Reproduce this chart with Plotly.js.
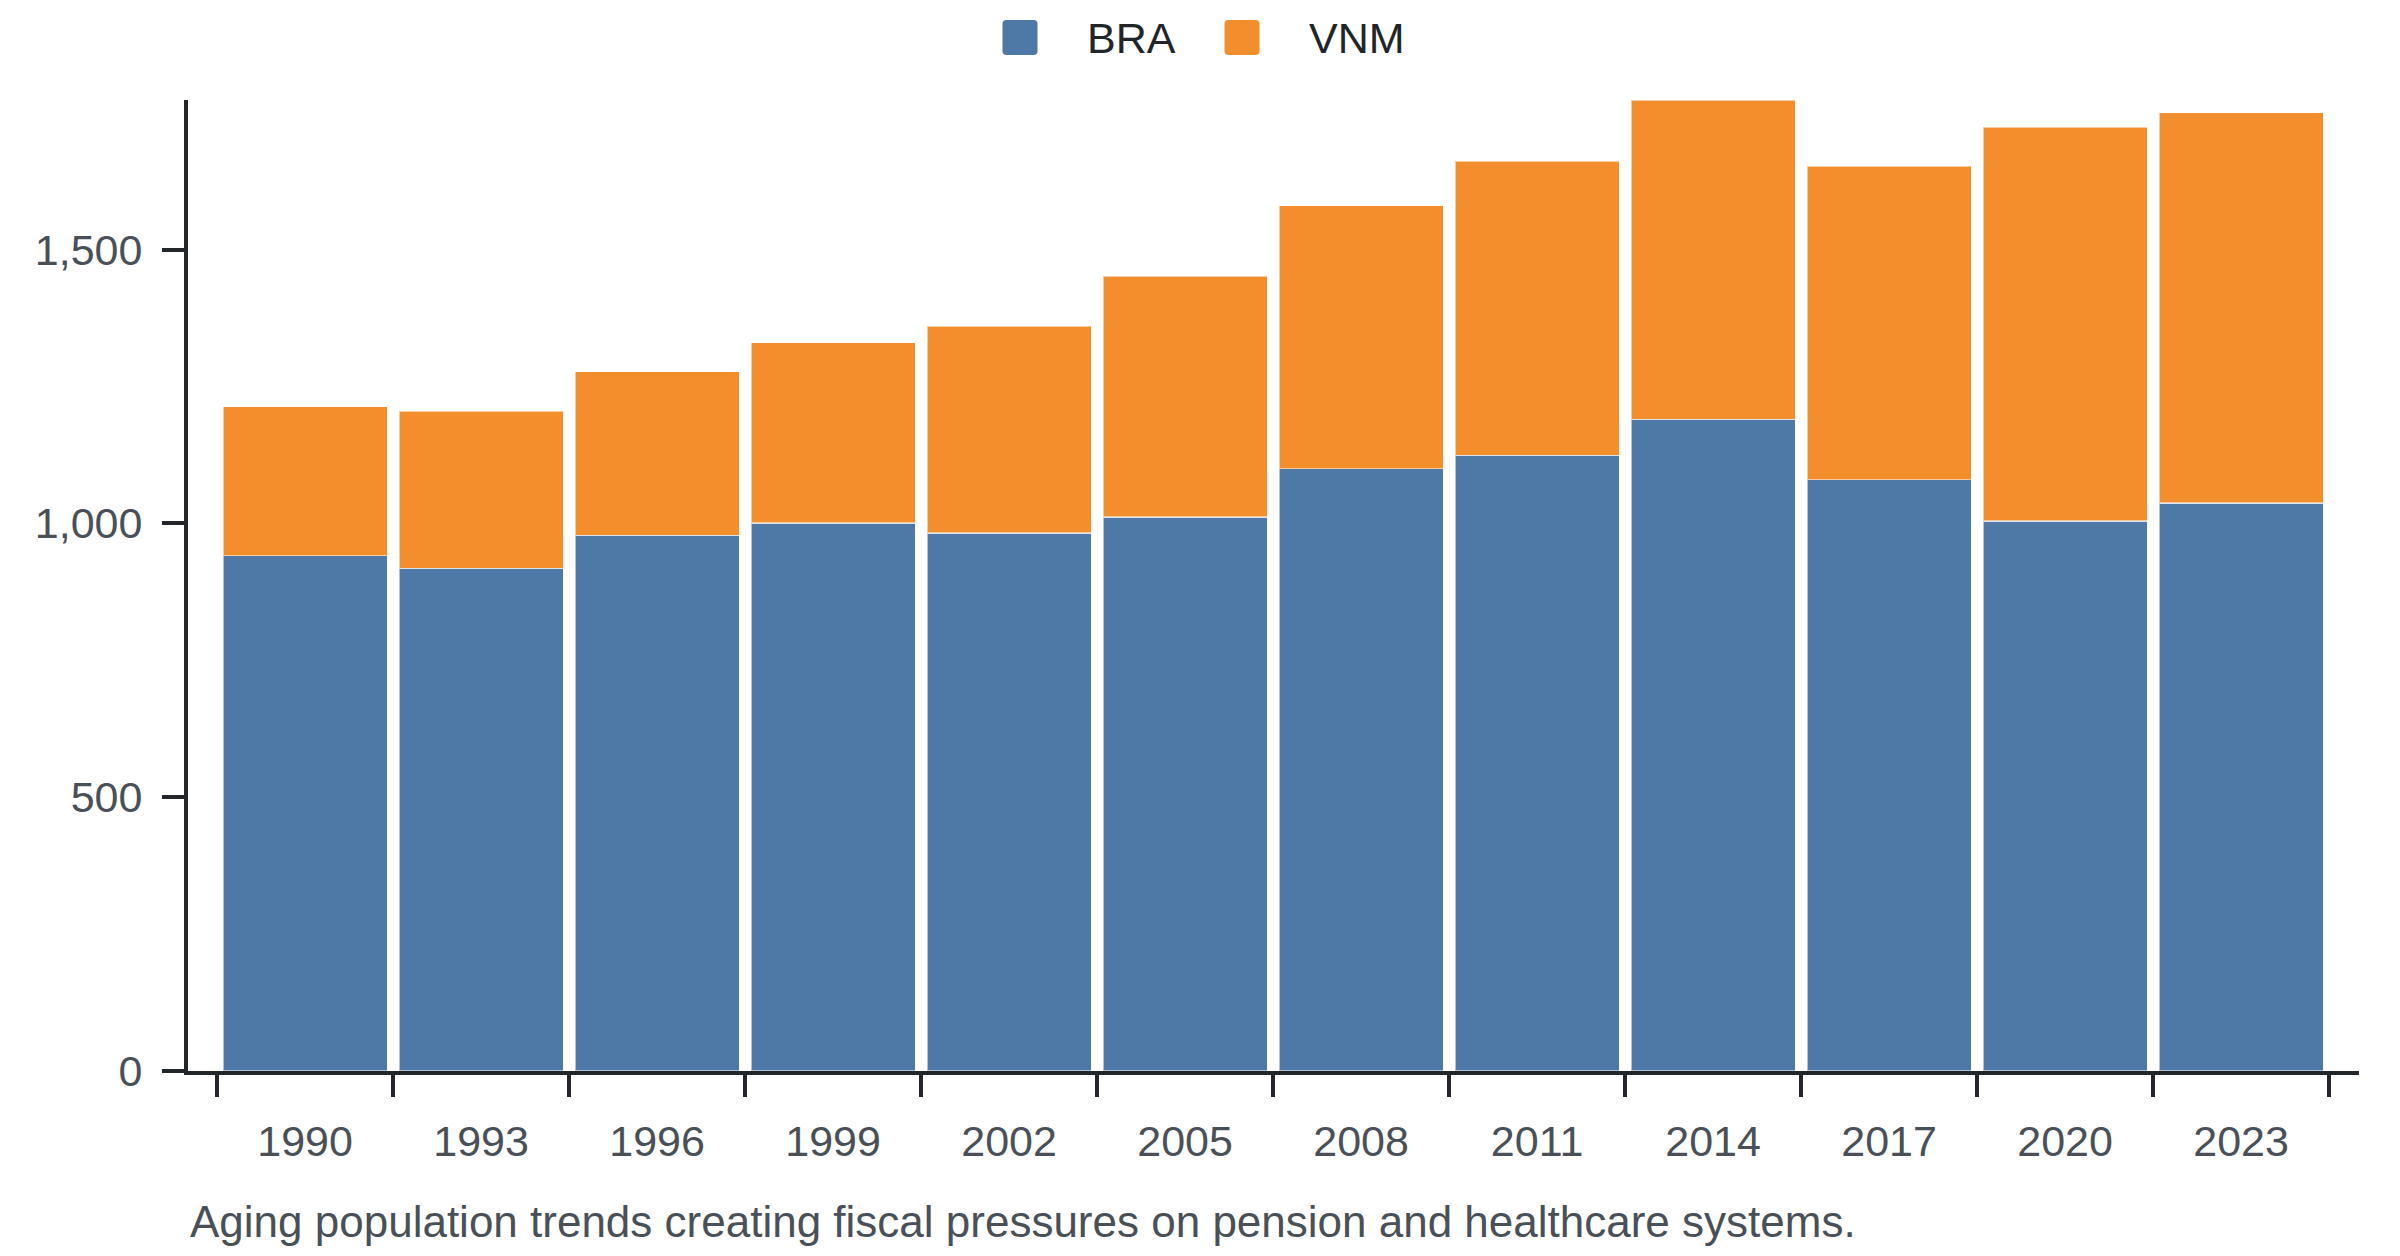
<!DOCTYPE html>
<html>
<head>
<meta charset="utf-8">
<script src="https://cdn.plot.ly/plotly-3.0.1.min.js"></script>
<style>
  html, body { margin: 0; padding: 0; background: #fff; }
  #myPlot { width: 2400px; height: 1256px; }
</style>
</head>
<body>
<div id="myPlot"></div>
<script>
// data
let years = ['1990', '1993', '1996', '1999', '2002', '2005', '2008', '2011', '2014', '2017', '2020', '2023'];
let seriesNames = ['BRA', 'VNM'];
let braValues = [941, 918, 978, 1001, 982, 1012, 1100, 1124, 1190, 1080, 1004, 1037];
let vnmValues = [272, 287, 299, 329, 378, 440, 480, 537, 583, 572, 720, 713];
let yTicks = [0, 500, 1000, 1500];
let caption = 'Aging population trends creating fiscal pressures on pension and healthcare systems.';

let colors = ['#4e79a7', '#f28e2b'];
let font = '"Liberation Sans", Arial, sans-serif';
let labelGrey = '#495057';
let axisDark = '#23272b';

let data1 = [
  {
    x: years, y: braValues, name: seriesNames[0], type: 'bar',
    marker: { color: colors[0], line: { color: 'rgba(255,255,255,0.55)', width: 1.5 } },
    showlegend: false
  },
  {
    x: years, y: vnmValues, name: seriesNames[1], type: 'bar',
    marker: { color: colors[1], line: { color: 'rgba(255,255,255,0.55)', width: 1.5 } },
    showlegend: false
  }
];

// legend drawn by hand so the swatches can be big and rounded
function roundSquare(s, r) {
  return 'M' + (-s + r) + ',' + (-s) + ' L' + (s - r) + ',' + (-s) +
    ' Q' + s + ',' + (-s) + ' ' + s + ',' + (-s + r) +
    ' L' + s + ',' + (s - r) + ' Q' + s + ',' + s + ' ' + (s - r) + ',' + s +
    ' L' + (-s + r) + ',' + s + ' Q' + (-s) + ',' + s + ' ' + (-s) + ',' + (s - r) +
    ' L' + (-s) + ',' + (-s + r) + ' Q' + (-s) + ',' + (-s) + ' ' + (-s + r) + ',' + (-s) + ' Z';
}

let plotL = 188, plotT = 100, plotW = 2171, plotH = 971;
let px = function (X) { return (X - plotL) / plotW; };
let py = function (Y) { return (plotT + plotH - Y) / plotH; };

let swatchX = [1020, 1242];
let labelX = [1085, 1307];
let legendY = 37.5;

let shapes = seriesNames.map(function (n, i) {
  return {
    type: 'path', xref: 'paper', yref: 'paper',
    xsizemode: 'pixel', ysizemode: 'pixel',
    xanchor: px(swatchX[i]), yanchor: py(legendY),
    path: roundSquare(17.5, 4),
    fillcolor: colors[i], line: { width: 0 }
  };
});

let annotations = seriesNames.map(function (n, i) {
  return {
    text: n, xref: 'paper', yref: 'paper',
    x: px(labelX[i]), y: py(legendY), xanchor: 'left', yanchor: 'middle',
    showarrow: false, font: { family: font, size: 43, color: '#212529' }
  };
});
annotations.push({
  text: caption, xref: 'paper', yref: 'paper',
  x: 0, y: py(1195), xanchor: 'left', yanchor: 'top',
  showarrow: false, font: { family: font, size: 44, color: labelGrey }
});

let layout = {
  width: 2400,
  height: 1256,
  margin: { l: plotL, r: 2400 - plotL - plotW, t: plotT, b: 1256 - plotT - plotH, pad: 0 },
  paper_bgcolor: '#ffffff',
  plot_bgcolor: '#ffffff',
  barmode: 'stack',
  bargap: 0.065,
  showlegend: false,
  font: { family: font, size: 43, color: labelGrey },
  xaxis: {
    type: 'category',
    range: [-0.665, 11.67],
    showline: true, linecolor: axisDark, linewidth: 4,
    ticks: 'outside', tickson: 'boundaries', ticklen: 22, tickwidth: 4, tickcolor: axisDark,
    ticklabelstandoff: 29,
    showgrid: false, zeroline: false,
    tickfont: { family: font, size: 43, color: labelGrey }
  },
  yaxis: {
    range: [0, 1773],
    tickvals: yTicks,
    tickformat: ',',
    showline: true, linecolor: axisDark, linewidth: 4,
    ticks: 'outside', ticklen: 22, tickwidth: 4, tickcolor: axisDark,
    ticklabelstandoff: 11,
    showgrid: false, zeroline: false,
    tickfont: { family: font, size: 43, color: labelGrey }
  },
  shapes: shapes,
  annotations: annotations
};

Plotly.newPlot('myPlot', data1, layout, { displayModeBar: false, staticPlot: true });
</script>
</body>
</html>
